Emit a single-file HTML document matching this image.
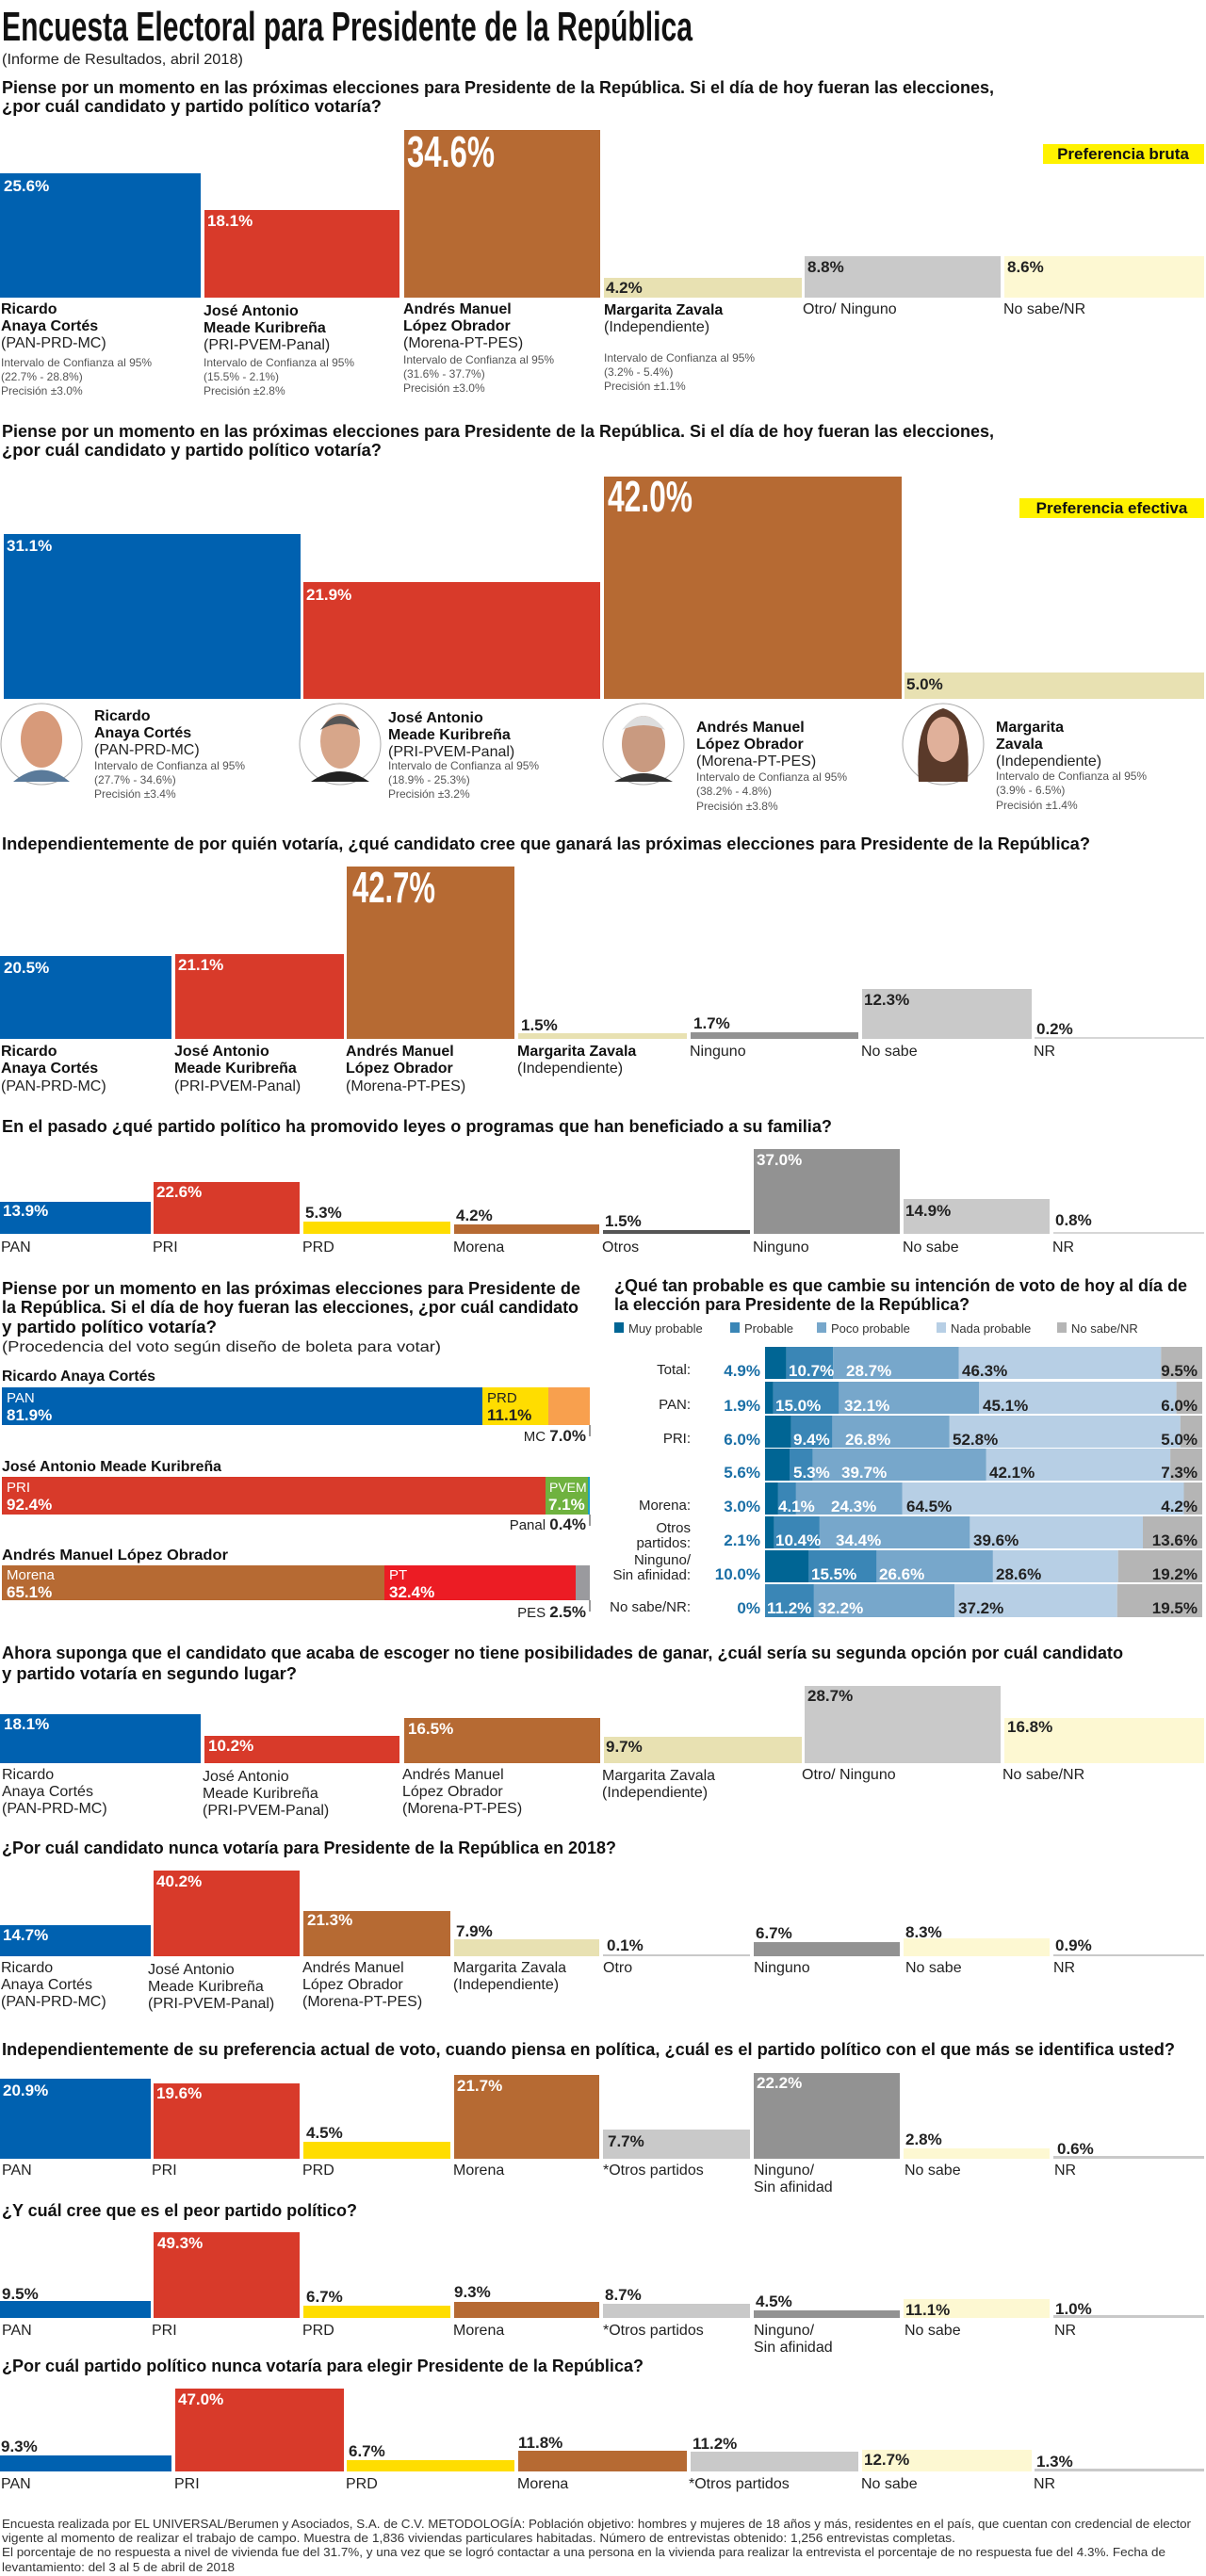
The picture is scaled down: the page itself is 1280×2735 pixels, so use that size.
<!DOCTYPE html>
<html><head><meta charset="utf-8">
<style>
html,body{margin:0;padding:0;background:#fff;width:1280px;height:2735px;overflow:hidden}
svg{display:block}
text{font-family:"Liberation Sans",sans-serif}
.tt{font-weight:bold;font-size:44px;fill:#111}
.q{font-weight:bold;font-size:18px;fill:#111}
.v{font-weight:bold;font-size:17px;fill:#fff}
.vd{font-weight:bold;font-size:17px;fill:#222}
.n{font-weight:bold;font-size:16px;fill:#111}
.r{font-size:16px;fill:#222}
.s{font-size:12px;fill:#555}
.tl{font-size:15px;fill:#222}
.tv{font-weight:bold;font-size:17px;fill:#1a6fa6}
.f{font-size:13px;fill:#333}
.lg{font-size:13px;fill:#333}
</style></head><body>
<svg width="1280" height="2735" viewBox="0 0 1280 2735" xmlns="http://www.w3.org/2000/svg">
<!-- Title -->
<text class="tt" x="2" y="43" textLength="733" lengthAdjust="spacingAndGlyphs">Encuesta Electoral para Presidente de la República</text>
<text x="2" y="68" font-size="16" fill="#222" textLength="256" lengthAdjust="spacingAndGlyphs">(Informe de Resultados, abril 2018)</text>

<!-- Section 1 -->
<text class="q" x="2" y="99" textLength="1053" lengthAdjust="spacingAndGlyphs">Piense por un momento en las próximas elecciones para Presidente de la República.  Si el día de hoy fueran las elecciones,</text>
<text class="q" x="2" y="119" textLength="403" lengthAdjust="spacingAndGlyphs">¿por cuál candidato y partido político votaría?</text>
<rect x="1107" y="153" width="171" height="21" fill="#fff200"/>
<text x="1192" y="169" text-anchor="middle" font-weight="bold" font-size="17" fill="#111">Preferencia bruta</text>
<rect x="0" y="184" width="213" height="132" fill="#0061b0"/>
<rect x="217" y="223" width="207" height="93" fill="#d83a2a"/>
<rect x="429" y="138" width="208" height="178" fill="#b66a33"/>
<rect x="641" y="295" width="210" height="21" fill="#e8e1b2"/>
<rect x="854" y="272" width="208" height="44" fill="#c9c9c9"/>
<rect x="1066" y="272" width="212" height="44" fill="#fdf8d2"/>
<text class="v" x="4" y="203">25.6%</text>
<text class="v" x="220" y="240">18.1%</text>
<text x="432" y="177" font-weight="bold" font-size="46" fill="#fff" textLength="93" lengthAdjust="spacingAndGlyphs">34.6%</text>
<text class="vd" x="643" y="311">4.2%</text>
<text class="vd" x="857" y="289">8.8%</text>
<text class="vd" x="1069" y="289">8.6%</text>
<text class="n" x="1" y="333">Ricardo</text><text class="n" x="1" y="351">Anaya Cortés</text><text class="r" x="1" y="369">(PAN-PRD-MC)</text>
<text class="s" x="1" y="389">Intervalo de Confianza al 95%</text><text class="s" x="1" y="404">(22.7% - 28.8%)</text><text class="s" x="1" y="419">Precisión ±3.0%</text>
<text class="n" x="216" y="335">José Antonio</text><text class="n" x="216" y="353">Meade Kuribreña</text><text class="r" x="216" y="371">(PRI-PVEM-Panal)</text>
<text class="s" x="216" y="389">Intervalo de Confianza al 95%</text><text class="s" x="216" y="404">(15.5% - 2.1%)</text><text class="s" x="216" y="419">Precisión ±2.8%</text>
<text class="n" x="428" y="333">Andrés Manuel</text><text class="n" x="428" y="351">López Obrador</text><text class="r" x="428" y="369">(Morena-PT-PES)</text>
<text class="s" x="428" y="386">Intervalo de Confianza al 95%</text><text class="s" x="428" y="401">(31.6% - 37.7%)</text><text class="s" x="428" y="416">Precisión ±3.0%</text>
<text class="n" x="641" y="334">Margarita Zavala</text><text class="r" x="641" y="352">(Independiente)</text>
<text class="s" x="641" y="384">Intervalo de Confianza al 95%</text><text class="s" x="641" y="399">(3.2% - 5.4%)</text><text class="s" x="641" y="414">Precisión ±1.1%</text>
<text class="r" x="852" y="333">Otro/ Ninguno</text>
<text class="r" x="1065" y="333">No sabe/NR</text>

<!-- Section 2 -->
<text class="q" x="2" y="464" textLength="1053" lengthAdjust="spacingAndGlyphs">Piense por un momento en las próximas elecciones para Presidente de la República.  Si el día de hoy fueran las elecciones,</text>
<text class="q" x="2" y="484" textLength="403" lengthAdjust="spacingAndGlyphs">¿por cuál candidato y partido político votaría?</text>
<rect x="1082" y="529" width="196" height="21" fill="#fff200"/>
<text x="1180" y="545" text-anchor="middle" font-weight="bold" font-size="17" fill="#111">Preferencia efectiva</text>
<rect x="4" y="567" width="315" height="175" fill="#0061b0"/>
<rect x="322" y="618" width="315" height="124" fill="#d83a2a"/>
<rect x="641" y="506" width="316" height="236" fill="#b66a33"/>
<rect x="960" y="714" width="318" height="28" fill="#e8e1b2"/>
<text class="v" x="7" y="585">31.1%</text>
<text class="v" x="325" y="637">21.9%</text>
<text x="645" y="543" font-weight="bold" font-size="46" fill="#fff" textLength="90" lengthAdjust="spacingAndGlyphs">42.0%</text>
<text class="vd" x="962" y="732">5.0%</text>
<g>
<circle cx="44" cy="790" r="43" fill="#fff" stroke="#aaa" stroke-width="1"/>
<ellipse cx="44" cy="785" rx="22" ry="30" fill="#d79a7a"/><path d="M14 830 Q44 805 74 830 Z" fill="#5a7a9a"/>
<circle cx="361" cy="790" r="43" fill="#fff" stroke="#aaa" stroke-width="1"/>
<ellipse cx="361" cy="787" rx="21" ry="29" fill="#d7a68a"/><path d="M330 830 Q361 808 392 830 Z" fill="#222"/><path d="M340 775 Q361 745 382 775 Q361 762 340 775Z" fill="#555"/>
<circle cx="683" cy="790" r="43" fill="#fff" stroke="#aaa" stroke-width="1"/>
<ellipse cx="683" cy="790" rx="23" ry="30" fill="#c99a80"/><path d="M660 775 Q683 745 706 775 Q683 765 660 775Z" fill="#ddd"/><path d="M652 830 Q683 812 714 830 Z" fill="#333"/>
<circle cx="1001" cy="790" r="43" fill="#fff" stroke="#aaa" stroke-width="1"/>
<path d="M975 830 Q970 760 1001 752 Q1032 760 1027 830 Z" fill="#5a3a2a"/><ellipse cx="1001" cy="785" rx="17" ry="24" fill="#e0b09a"/>
</g>
<text class="n" x="100" y="765">Ricardo</text><text class="n" x="100" y="783">Anaya Cortés</text><text class="r" x="100" y="801">(PAN-PRD-MC)</text>
<text class="s" x="100" y="817">Intervalo de  Confianza al 95%</text><text class="s" x="100" y="832">(27.7% - 34.6%)</text><text class="s" x="100" y="847">Precisión ±3.4%</text>
<text class="n" x="412" y="767">José Antonio</text><text class="n" x="412" y="785">Meade Kuribreña</text><text class="r" x="412" y="803">(PRI-PVEM-Panal)</text>
<text class="s" x="412" y="817">Intervalo de Confianza al 95%</text><text class="s" x="412" y="832">(18.9% - 25.3%)</text><text class="s" x="412" y="847">Precisión ±3.2%</text>
<text class="n" x="739" y="777">Andrés Manuel</text><text class="n" x="739" y="795">López Obrador</text><text class="r" x="739" y="813">(Morena-PT-PES)</text>
<text class="s" x="739" y="829">Intervalo de Confianza al 95%</text><text class="s" x="739" y="844">(38.2% - 4.8%)</text><text class="s" x="739" y="860">Precisión ±3.8%</text>
<text class="n" x="1057" y="777">Margarita</text><text class="n" x="1057" y="795">Zavala</text><text class="r" x="1057" y="813">(Independiente)</text>
<text class="s" x="1057" y="828">Intervalo de  Confianza al 95%</text><text class="s" x="1057" y="843">(3.9% - 6.5%)</text><text class="s" x="1057" y="859">Precisión ±1.4%</text>

<!-- Section 3 -->
<text class="q" x="2" y="902" textLength="1155" lengthAdjust="spacingAndGlyphs">Independientemente de por quién votaría, ¿qué candidato cree que ganará las próximas elecciones para Presidente de la República?</text>
<rect x="0" y="1015" width="182" height="88" fill="#0061b0"/>
<rect x="186" y="1013" width="179" height="90" fill="#d83a2a"/>
<rect x="368" y="920" width="178" height="183" fill="#b66a33"/>
<rect x="550" y="1097" width="179" height="6" fill="#e8e1b2"/>
<rect x="733" y="1096" width="178" height="7" fill="#929292"/>
<rect x="915" y="1050" width="180" height="53" fill="#c9c9c9"/>
<rect x="1098" y="1101" width="180" height="2" fill="#d6d6d6"/>
<text class="v" x="4" y="1033">20.5%</text>
<text class="v" x="189" y="1030">21.1%</text>
<text x="374" y="958" font-weight="bold" font-size="46" fill="#fff" textLength="88" lengthAdjust="spacingAndGlyphs">42.7%</text>
<text class="vd" x="553" y="1094">1.5%</text>
<text class="vd" x="736" y="1092">1.7%</text>
<text class="vd" x="917" y="1067">12.3%</text>
<text class="vd" x="1100" y="1098">0.2%</text>
<text class="n" x="1" y="1121">Ricardo</text><text class="n" x="1" y="1139">Anaya Cortés</text><text class="r" x="1" y="1158">(PAN-PRD-MC)</text>
<text class="n" x="185" y="1121">José Antonio</text><text class="n" x="185" y="1139">Meade Kuribreña</text><text class="r" x="185" y="1158">(PRI-PVEM-Panal)</text>
<text class="n" x="367" y="1121">Andrés Manuel</text><text class="n" x="367" y="1139">López Obrador</text><text class="r" x="367" y="1158">(Morena-PT-PES)</text>
<text class="n" x="549" y="1121">Margarita Zavala</text><text class="r" x="549" y="1139">(Independiente)</text>
<text class="r" x="732" y="1121">Ninguno</text>
<text class="r" x="914" y="1121">No sabe</text>
<text class="r" x="1097" y="1121">NR</text>

<!-- Section 4 -->
<text class="q" x="2" y="1202" textLength="881" lengthAdjust="spacingAndGlyphs">En el pasado ¿qué partido político ha promovido leyes o programas que han beneficiado a su familia?</text>
<rect x="0" y="1276" width="160" height="34" fill="#0061b0"/>
<rect x="163" y="1255" width="155" height="55" fill="#d83a2a"/>
<rect x="322" y="1297" width="156" height="13" fill="#ffdd00"/>
<rect x="482" y="1300" width="154" height="10" fill="#b66a33"/>
<rect x="640" y="1306" width="156" height="4" fill="#555"/>
<rect x="800" y="1220" width="155" height="90" fill="#929292"/>
<rect x="959" y="1273" width="155" height="37" fill="#c9c9c9"/>
<rect x="1118" y="1308" width="160" height="2" fill="#d6d6d6"/>
<text class="v" x="3" y="1291">13.9%</text>
<text class="v" x="166" y="1271">22.6%</text>
<text class="vd" x="324" y="1293">5.3%</text>
<text class="vd" x="484" y="1296">4.2%</text>
<text class="vd" x="642" y="1302">1.5%</text>
<text class="v" x="803" y="1237">37.0%</text>
<text class="vd" x="961" y="1291">14.9%</text>
<text class="vd" x="1120" y="1301">0.8%</text>
<text class="r" x="1" y="1329">PAN</text><text class="r" x="162" y="1329">PRI</text><text class="r" x="321" y="1329">PRD</text><text class="r" x="481" y="1329">Morena</text>
<text class="r" x="639" y="1329">Otros</text><text class="r" x="799" y="1329">Ninguno</text><text class="r" x="958" y="1329">No sabe</text><text class="r" x="1117" y="1329">NR</text>

<!-- Section 5 left -->
<text class="q" x="2" y="1374" textLength="614" lengthAdjust="spacingAndGlyphs">Piense por un momento en las próximas elecciones para Presidente de</text>
<text class="q" x="2" y="1394" textLength="612" lengthAdjust="spacingAndGlyphs">la República.  Si el día de hoy fueran las elecciones, ¿por cuál candidato</text>
<text class="q" x="2" y="1415" textLength="228" lengthAdjust="spacingAndGlyphs">y partido político votaría?</text>
<text x="2" y="1435" font-size="16" fill="#222" textLength="466" lengthAdjust="spacingAndGlyphs">(Procedencia del voto según diseño de boleta para votar)</text>
<text x="2" y="1466" font-weight="bold" font-size="16" fill="#111" textLength="163" lengthAdjust="spacingAndGlyphs">Ricardo Anaya Cortés</text>
<rect x="2" y="1473" width="510" height="40" fill="#0061b0"/>
<rect x="512" y="1473" width="70" height="40" fill="#ffdd00"/>
<rect x="582" y="1473" width="44" height="40" fill="#f8a04e"/>
<text x="7" y="1489" font-size="15" fill="#fff">PAN</text><text class="v" x="7" y="1508">81.9%</text>
<text x="517" y="1489" font-size="15" fill="#222">PRD</text><text class="vd" x="517" y="1508">11.1%</text>
<line x1="626" y1="1513" x2="626" y2="1525" stroke="#333"/>
<text x="622" y="1530" text-anchor="end" font-size="15" fill="#222">MC <tspan font-weight="bold" font-size="17">7.0%</tspan></text>
<text x="2" y="1562" font-weight="bold" font-size="16" fill="#111" textLength="233" lengthAdjust="spacingAndGlyphs">José Antonio Meade Kuribreña</text>
<rect x="2" y="1568" width="577" height="40" fill="#d83a2a"/>
<rect x="579" y="1568" width="45" height="40" fill="#6fb23f"/>
<rect x="624" y="1568" width="2" height="40" fill="#16a0c8"/>
<text x="7" y="1584" font-size="15" fill="#fff">PRI</text><text class="v" x="7" y="1603">92.4%</text>
<text x="583" y="1584" font-size="14" fill="#fff">PVEM</text><text class="v" x="582" y="1603">7.1%</text>
<line x1="626" y1="1608" x2="626" y2="1620" stroke="#333"/>
<text x="622" y="1624" text-anchor="end" font-size="15" fill="#222">Panal <tspan font-weight="bold" font-size="17">0.4%</tspan></text>
<text x="2" y="1656" font-weight="bold" font-size="16" fill="#111" textLength="240" lengthAdjust="spacingAndGlyphs">Andrés Manuel López Obrador</text>
<rect x="2" y="1662" width="406" height="37" fill="#b66a33"/>
<rect x="408" y="1662" width="203" height="37" fill="#ec1c24"/>
<rect x="611" y="1662" width="15" height="37" fill="#9a9a9e"/>
<text x="7" y="1677" font-size="15" fill="#fff">Morena</text><text class="v" x="7" y="1696">65.1%</text>
<text x="413" y="1677" font-size="15" fill="#fff">PT</text><text class="v" x="413" y="1696">32.4%</text>
<line x1="626" y1="1699" x2="626" y2="1711" stroke="#333"/>
<text x="622" y="1717" text-anchor="end" font-size="15" fill="#222">PES <tspan font-weight="bold" font-size="17">2.5%</tspan></text>

<!-- Section 5 right -->
<text class="q" x="652" y="1371" textLength="608" lengthAdjust="spacingAndGlyphs">¿Qué tan probable es que cambie su intención de voto de hoy al día de</text>
<text class="q" x="652" y="1391" textLength="377" lengthAdjust="spacingAndGlyphs">la elección para Presidente de la República?</text>
<rect x="652" y="1404" width="10" height="11" fill="#006594"/><text class="lg" x="667" y="1415">Muy probable</text>
<rect x="775" y="1404" width="10" height="11" fill="#3a86b6"/><text class="lg" x="790" y="1415">Probable</text>
<rect x="867" y="1404" width="10" height="11" fill="#77a7cb"/><text class="lg" x="882" y="1415">Poco probable</text>
<rect x="994" y="1404" width="10" height="11" fill="#b7cfe5"/><text class="lg" x="1009" y="1415">Nada probable</text>
<rect x="1122" y="1404" width="10" height="11" fill="#b5b5b5"/><text class="lg" x="1137" y="1415">No sabe/NR</text>

<!-- rows: tops 1430,1467,1503,1538,1574,1610,1646,1682 -->
<g>
<rect x="812" y="1430" width="22.7" height="34" fill="#006594"/><rect x="834.7" y="1430" width="49.6" height="34" fill="#3a86b6"/><rect x="884.3" y="1430" width="133.2" height="34" fill="#77a7cb"/><rect x="1017.5" y="1430" width="214.8" height="34" fill="#b7cfe5"/><rect x="1232.3" y="1430" width="43.7" height="34" fill="#b5b5b5"/>
<text class="tl" x="733" y="1459" text-anchor="end">Total:</text><text class="tv" x="807" y="1461" text-anchor="end">4.9%</text>
<text class="v" x="837" y="1461">10.7%</text><text class="v" x="898" y="1461">28.7%</text><text class="vd" x="1021" y="1461">46.3%</text><text class="vd" x="1271" y="1461" text-anchor="end">9.5%</text>

<rect x="812" y="1467" width="8.8" height="34" fill="#006594"/><rect x="820.8" y="1467" width="69.6" height="34" fill="#3a86b6"/><rect x="890.4" y="1467" width="148.9" height="34" fill="#77a7cb"/><rect x="1039.3" y="1467" width="209.3" height="34" fill="#b7cfe5"/><rect x="1248.6" y="1467" width="27.4" height="34" fill="#b5b5b5"/>
<text class="tl" x="733" y="1496" text-anchor="end">PAN:</text><text class="tv" x="807" y="1498" text-anchor="end">1.9%</text>
<text class="v" x="823" y="1498">15.0%</text><text class="v" x="896" y="1498">32.1%</text><text class="vd" x="1043" y="1498">45.1%</text><text class="vd" x="1271" y="1498" text-anchor="end">6.0%</text>

<rect x="812" y="1503" width="27.8" height="34" fill="#006594"/><rect x="839.8" y="1503" width="43.6" height="34" fill="#3a86b6"/><rect x="883.4" y="1503" width="124.4" height="34" fill="#77a7cb"/><rect x="1007.8" y="1503" width="245" height="34" fill="#b7cfe5"/><rect x="1252.8" y="1503" width="23.2" height="34" fill="#b5b5b5"/>
<text class="tl" x="733" y="1532" text-anchor="end">PRI:</text><text class="tv" x="807" y="1534" text-anchor="end">6.0%</text>
<text class="v" x="842" y="1534">9.4%</text><text class="v" x="897" y="1534">26.8%</text><text class="vd" x="1011" y="1534">52.8%</text><text class="vd" x="1271" y="1534" text-anchor="end">5.0%</text>

<rect x="812" y="1538" width="26" height="34" fill="#006594"/><rect x="838" y="1538" width="24.6" height="34" fill="#3a86b6"/><rect x="862.6" y="1538" width="184.2" height="34" fill="#77a7cb"/><rect x="1046.8" y="1538" width="195.3" height="34" fill="#b7cfe5"/><rect x="1242.1" y="1538" width="33.9" height="34" fill="#b5b5b5"/>
<text class="tv" x="807" y="1569" text-anchor="end">5.6%</text>
<text class="v" x="842" y="1569">5.3%</text><text class="v" x="893" y="1569">39.7%</text><text class="vd" x="1050" y="1569">42.1%</text><text class="vd" x="1271" y="1569" text-anchor="end">7.3%</text>

<rect x="812" y="1574" width="13.9" height="34" fill="#006594"/><rect x="825.9" y="1574" width="19" height="34" fill="#3a86b6"/><rect x="844.9" y="1574" width="112.6" height="34" fill="#77a7cb"/><rect x="957.5" y="1574" width="299" height="34" fill="#b7cfe5"/><rect x="1256.5" y="1574" width="19.5" height="34" fill="#b5b5b5"/>
<text class="tl" x="733" y="1603" text-anchor="end">Morena:</text><text class="tv" x="807" y="1605" text-anchor="end">3.0%</text>
<text class="v" x="826" y="1605">4.1%</text><text class="v" x="882" y="1605">24.3%</text><text class="vd" x="962" y="1605">64.5%</text><text class="vd" x="1271" y="1605" text-anchor="end">4.2%</text>

<rect x="812" y="1610" width="9.7" height="34" fill="#006594"/><rect x="821.7" y="1610" width="48.2" height="34" fill="#3a86b6"/><rect x="869.9" y="1610" width="159.5" height="34" fill="#77a7cb"/><rect x="1029.4" y="1610" width="183.6" height="34" fill="#b7cfe5"/><rect x="1213" y="1610" width="63" height="34" fill="#b5b5b5"/>
<text class="tl" x="733" y="1627" text-anchor="end">Otros</text><text class="tl" x="733" y="1643" text-anchor="end">partidos:</text><text class="tv" x="807" y="1641" text-anchor="end">2.1%</text>
<text class="v" x="823" y="1641">10.4%</text><text class="v" x="887" y="1641">34.4%</text><text class="vd" x="1033" y="1641">39.6%</text><text class="vd" x="1271" y="1641" text-anchor="end">13.6%</text>

<rect x="812" y="1646" width="46.4" height="34" fill="#006594"/><rect x="858.4" y="1646" width="72" height="34" fill="#3a86b6"/><rect x="930.4" y="1646" width="123.5" height="34" fill="#77a7cb"/><rect x="1053.9" y="1646" width="132.8" height="34" fill="#b7cfe5"/><rect x="1186.7" y="1646" width="89.3" height="34" fill="#b5b5b5"/>
<text class="tl" x="733" y="1661" text-anchor="end">Ninguno/</text><text class="tl" x="733" y="1677" text-anchor="end">Sin afinidad:</text><text class="tv" x="807" y="1677" text-anchor="end">10.0%</text>
<text class="v" x="861" y="1677">15.5%</text><text class="v" x="933" y="1677">26.6%</text><text class="vd" x="1057" y="1677">28.6%</text><text class="vd" x="1271" y="1677" text-anchor="end">19.2%</text>

<rect x="812" y="1682" width="51.9" height="35" fill="#3a86b6"/><rect x="863.9" y="1682" width="149.3" height="35" fill="#77a7cb"/><rect x="1013.2" y="1682" width="172.5" height="35" fill="#b7cfe5"/><rect x="1185.7" y="1682" width="90.3" height="35" fill="#b5b5b5"/>
<text class="tl" x="733" y="1711" text-anchor="end">No sabe/NR:</text><text class="tv" x="807" y="1713" text-anchor="end">0%</text>
<text class="v" x="814" y="1713">11.2%</text><text class="v" x="868" y="1713">32.2%</text><text class="vd" x="1017" y="1713">37.2%</text><text class="vd" x="1271" y="1713" text-anchor="end">19.5%</text>
</g>

<!-- Section 6 -->
<text class="q" x="2" y="1761" textLength="1190" lengthAdjust="spacingAndGlyphs">Ahora suponga que el candidato que acaba de escoger no tiene posibilidades de ganar,  ¿cuál sería su segunda opción por cuál candidato</text>
<text class="q" x="2" y="1783" textLength="313" lengthAdjust="spacingAndGlyphs">y partido votaría en segundo lugar?</text>
<rect x="0" y="1820" width="213" height="52" fill="#0061b0"/>
<rect x="217" y="1843" width="207" height="29" fill="#d83a2a"/>
<rect x="429" y="1824" width="208" height="48" fill="#b66a33"/>
<rect x="641" y="1844" width="210" height="28" fill="#e8e1b2"/>
<rect x="854" y="1790" width="208" height="82" fill="#c9c9c9"/>
<rect x="1066" y="1824" width="212" height="48" fill="#fdf8d2"/>
<text class="v" x="4" y="1836">18.1%</text>
<text class="v" x="221" y="1859">10.2%</text>
<text class="v" x="433" y="1841">16.5%</text>
<text class="vd" x="643" y="1860">9.7%</text>
<text class="vd" x="857" y="1806">28.7%</text>
<text class="vd" x="1069" y="1839">16.8%</text>
<text class="r" x="2" y="1889">Ricardo</text><text class="r" x="2" y="1907">Anaya Cortés</text><text class="r" x="2" y="1925">(PAN-PRD-MC)</text>
<text class="r" x="215" y="1891">José Antonio</text><text class="r" x="215" y="1909">Meade Kuribreña</text><text class="r" x="215" y="1927">(PRI-PVEM-Panal)</text>
<text class="r" x="427" y="1889">Andrés Manuel</text><text class="r" x="427" y="1907">López Obrador</text><text class="r" x="427" y="1925">(Morena-PT-PES)</text>
<text class="r" x="639" y="1890">Margarita Zavala</text><text class="r" x="639" y="1908">(Independiente)</text>
<text class="r" x="851" y="1889">Otro/ Ninguno</text>
<text class="r" x="1064" y="1889">No sabe/NR</text>

<!-- Section 7 -->
<text class="q" x="2" y="1968" textLength="652" lengthAdjust="spacingAndGlyphs">¿Por cuál candidato nunca votaría para Presidente de la República en 2018?</text>
<rect x="0" y="2044" width="160" height="33" fill="#0061b0"/>
<rect x="163" y="1986" width="155" height="91" fill="#d83a2a"/>
<rect x="322" y="2029" width="156" height="48" fill="#b66a33"/>
<rect x="482" y="2059" width="154" height="18" fill="#e8e1b2"/>
<rect x="640" y="2075" width="156" height="2" fill="#c9c9c9"/>
<rect x="800" y="2062" width="155" height="15" fill="#929292"/>
<rect x="959" y="2058" width="155" height="19" fill="#fdf8d2"/>
<rect x="1118" y="2075" width="160" height="2" fill="#c9c9c9"/>
<text class="v" x="3" y="2060">14.7%</text>
<text class="v" x="166" y="2003">40.2%</text>
<text class="v" x="326" y="2044">21.3%</text>
<text class="vd" x="484" y="2056">7.9%</text>
<text class="vd" x="644" y="2071">0.1%</text>
<text class="vd" x="802" y="2058">6.7%</text>
<text class="vd" x="961" y="2057">8.3%</text>
<text class="vd" x="1120" y="2071">0.9%</text>
<text class="r" x="1" y="2094">Ricardo</text><text class="r" x="1" y="2112">Anaya Cortés</text><text class="r" x="1" y="2130">(PAN-PRD-MC)</text>
<text class="r" x="157" y="2096">José Antonio</text><text class="r" x="157" y="2114">Meade Kuribreña</text><text class="r" x="157" y="2132">(PRI-PVEM-Panal)</text>
<text class="r" x="321" y="2094">Andrés Manuel</text><text class="r" x="321" y="2112">López Obrador</text><text class="r" x="321" y="2130">(Morena-PT-PES)</text>
<text class="r" x="481" y="2094">Margarita Zavala</text><text class="r" x="481" y="2112">(Independiente)</text>
<text class="r" x="640" y="2094">Otro</text><text class="r" x="800" y="2094">Ninguno</text><text class="r" x="961" y="2094">No sabe</text><text class="r" x="1118" y="2094">NR</text>

<!-- Section 8 -->
<text class="q" x="2" y="2182" textLength="1245" lengthAdjust="spacingAndGlyphs">Independientemente de su preferencia actual de voto, cuando piensa en política,  ¿cuál es el partido político con el que más se identifica usted?</text>
<rect x="0" y="2207" width="160" height="85" fill="#0061b0"/>
<rect x="163" y="2212" width="155" height="80" fill="#d83a2a"/>
<rect x="322" y="2274" width="156" height="18" fill="#ffdd00"/>
<rect x="482" y="2203" width="154" height="89" fill="#b66a33"/>
<rect x="640" y="2261" width="156" height="31" fill="#c9c9c9"/>
<rect x="800" y="2201" width="155" height="91" fill="#929292"/>
<rect x="959" y="2281" width="155" height="11" fill="#fdf8d2"/>
<rect x="1118" y="2289" width="160" height="3" fill="#c9c9c9"/>
<text class="v" x="3" y="2225">20.9%</text>
<text class="v" x="166" y="2228">19.6%</text>
<text class="vd" x="325" y="2270">4.5%</text>
<text class="v" x="485" y="2220">21.7%</text>
<text class="vd" x="645" y="2279">7.7%</text>
<text class="v" x="803" y="2217">22.2%</text>
<text class="vd" x="961" y="2277">2.8%</text>
<text class="vd" x="1122" y="2287">0.6%</text>
<text class="r" x="2" y="2309">PAN</text><text class="r" x="161" y="2309">PRI</text><text class="r" x="321" y="2309">PRD</text><text class="r" x="481" y="2309">Morena</text>
<text class="r" x="640" y="2309">*Otros partidos</text><text class="r" x="800" y="2309">Ninguno/</text><text class="r" x="800" y="2327">Sin afinidad</text>
<text class="r" x="960" y="2309">No sabe</text><text class="r" x="1119" y="2309">NR</text>

<!-- Section 9 -->
<text class="q" x="2" y="2353" textLength="377" lengthAdjust="spacingAndGlyphs">¿Y cuál cree que es el peor partido político?</text>
<rect x="0" y="2443" width="160" height="18" fill="#0061b0"/>
<rect x="163" y="2370" width="155" height="91" fill="#d83a2a"/>
<rect x="322" y="2448" width="156" height="13" fill="#ffdd00"/>
<rect x="482" y="2444" width="154" height="17" fill="#b66a33"/>
<rect x="640" y="2446" width="156" height="15" fill="#c9c9c9"/>
<rect x="800" y="2453" width="155" height="8" fill="#929292"/>
<rect x="959" y="2441" width="155" height="20" fill="#fdf8d2"/>
<rect x="1118" y="2458" width="160" height="3" fill="#c9c9c9"/>
<text class="vd" x="2" y="2441">9.5%</text>
<text class="v" x="167" y="2387">49.3%</text>
<text class="vd" x="325" y="2444">6.7%</text>
<text class="vd" x="482" y="2439">9.3%</text>
<text class="vd" x="642" y="2442">8.7%</text>
<text class="vd" x="802" y="2449">4.5%</text>
<text class="vd" x="961" y="2458">11.1%</text>
<text class="vd" x="1120" y="2457">1.0%</text>
<text class="r" x="2" y="2479">PAN</text><text class="r" x="161" y="2479">PRI</text><text class="r" x="321" y="2479">PRD</text><text class="r" x="481" y="2479">Morena</text>
<text class="r" x="640" y="2479">*Otros partidos</text><text class="r" x="800" y="2479">Ninguno/</text><text class="r" x="800" y="2497">Sin afinidad</text>
<text class="r" x="960" y="2479">No sabe</text><text class="r" x="1119" y="2479">NR</text>

<!-- Section 10 -->
<text class="q" x="2" y="2518" textLength="681" lengthAdjust="spacingAndGlyphs">¿Por cuál partido político nunca votaría para elegir Presidente de la República?</text>
<rect x="0" y="2607" width="182" height="17" fill="#0061b0"/>
<rect x="186" y="2536" width="179" height="88" fill="#d83a2a"/>
<rect x="368" y="2612" width="178" height="12" fill="#ffdd00"/>
<rect x="550" y="2602" width="179" height="22" fill="#b66a33"/>
<rect x="733" y="2603" width="178" height="21" fill="#c9c9c9"/>
<rect x="915" y="2601" width="180" height="23" fill="#fdf8d2"/>
<rect x="1098" y="2621" width="180" height="3" fill="#c9c9c9"/>
<text class="vd" x="1" y="2603">9.3%</text>
<text class="v" x="189" y="2553">47.0%</text>
<text class="vd" x="370" y="2608">6.7%</text>
<text class="vd" x="550" y="2599">11.8%</text>
<text class="vd" x="735" y="2600">11.2%</text>
<text class="vd" x="917" y="2617">12.7%</text>
<text class="vd" x="1100" y="2619">1.3%</text>
<text class="r" x="1" y="2642">PAN</text><text class="r" x="185" y="2642">PRI</text><text class="r" x="367" y="2642">PRD</text><text class="r" x="549" y="2642">Morena</text>
<text class="r" x="731" y="2642">*Otros partidos</text><text class="r" x="914" y="2642">No sabe</text><text class="r" x="1097" y="2642">NR</text>

<!-- Footer -->
<text class="f" x="2" y="2684" textLength="1262" lengthAdjust="spacingAndGlyphs">Encuesta realizada por EL UNIVERSAL/Berumen y Asociados, S.A. de C.V. METODOLOGÍA: Población objetivo: hombres y mujeres de 18 años y más, residentes en el país, que cuentan con credencial de elector</text>
<text class="f" x="2" y="2699" textLength="1012" lengthAdjust="spacingAndGlyphs">vigente al momento de realizar el trabajo de campo. Muestra de 1,836 viviendas particulares habitadas. Número de entrevistas obtenido: 1,256  entrevistas completas.</text>
<text class="f" x="2" y="2714" textLength="1235" lengthAdjust="spacingAndGlyphs">El porcentaje de no respuesta a nivel de vivienda fue del 31.7%, y una vez que se logró contactar a una persona en la vivienda para realizar la entrevista el porcentaje de no respuesta fue del 4.3%. Fecha de</text>
<text class="f" x="2" y="2730" textLength="247" lengthAdjust="spacingAndGlyphs">levantamiento: del 3 al 5 de abril de 2018</text>
</svg>
</body></html>
